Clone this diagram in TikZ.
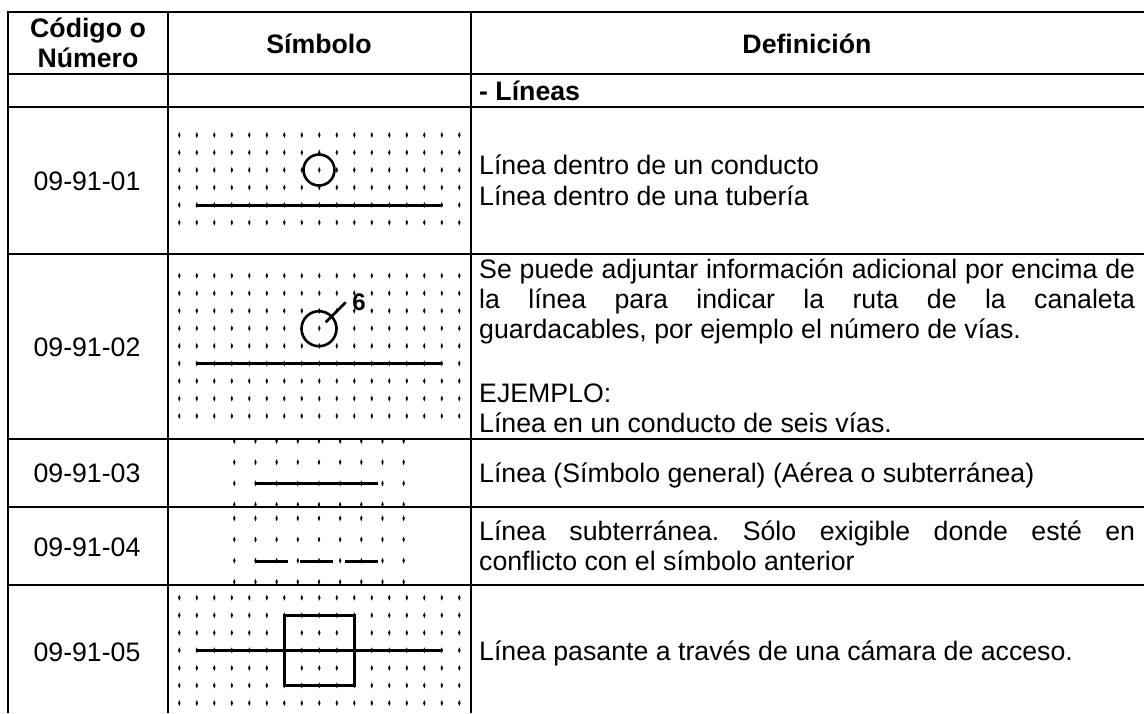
\documentclass[tikz,border=0pt]{standalone}
\usepackage{fontspec}
\setmainfont{Liberation Sans}
\frenchspacing
\newcommand{\dotgrid}[6]{%
  \foreach \i in {0,...,#3}{\foreach \j in {0,...,#6}{%
    \fill[black] ({#1+\i*#2},{#4+\j*#5-3}) -- ({#1+\i*#2+1.2},{#4+\j*#5}) -- ({#1+\i*#2},{#4+\j*#5+3}) -- ({#1+\i*#2-1.2},{#4+\j*#5}) -- cycle;
  }}}
\tikzset{
  grid/.style={line width=2pt},
  sym/.style={line width=3pt},
  cell/.style={font=\fontsize{26.7}{30}\selectfont,inner sep=0pt,anchor=base},
  head/.style={cell,font=\fontsize{26.7}{30}\selectfont\bfseries},
  def/.style={font=\fontsize{26.7}{30}\selectfont,inner sep=0pt,anchor=base west},
}
\newcommand{\jline}[1]{\hbox to 656pt{#1}}
\begin{document}
\begin{tikzpicture}[x=1pt,y=-1pt]
\useasboundingbox (0,0) rectangle (1144,713);
\fill[white] (0,0) rectangle (1144,713);
% dots
\dotgrid{179.3}{17.5}{16}{135}{17.5}{5}
\dotgrid{179.3}{17.5}{16}{275.7}{17.55}{8}
\dotgrid{234.3}{21.17}{8}{441}{21.2}{3}
\dotgrid{234.3}{21.17}{8}{518.3}{21.2}{3}
\dotgrid{179.3}{17.5}{16}{597.7}{17.55}{6}
% grid
\draw[grid] (7,12) -- (1144,12);
\draw[grid] (8,12) -- (8,713);
\draw[grid] (168.3,12) -- (168.3,713);
\draw[grid] (470.7,12) -- (470.7,713);
\foreach \y in {74,106.7,254,439,507,585} \draw[grid] (7,\y) -- (1144,\y);
% header
\node[head] (h1) at (88,37) {Código o};
\node[head] (h1b) at (88,67) {Número};
\node[head] (h2) at (319,53) {Símbolo};
\node[head] (h3) at (807,53) {Definición};
\node[def,font=\fontsize{26.7}{30}\selectfont\bfseries] (sec) at (479,100) {- Líneas};
% codes
\node[cell] (c1) at (87,190) {09-91-01};
\node[cell] (c2) at (87,356) {09-91-02};
\node[cell] (c3) at (87,482.7) {09-91-03};
\node[cell] (c4) at (87,556) {09-91-04};
\node[cell] (c5) at (87,661) {09-91-05};
% definitions
\node[def] (d1a) at (479,174) {Línea dentro de un conducto};
\node[def] (d1b) at (479,205) {Línea dentro de una tubería};
\node[def] (d2a) at (479,278) {\jline{Se puede adjuntar información adicional por encima de}};
\node[def] (d2b) at (479,308) {\jline{la línea para indicar la ruta de la canaleta}};
\node[def] (d2c) at (479,338) {guardacables, por ejemplo el número de vías.};
\node[def] (d2d) at (479,402) {EJEMPLO:};
\node[def] (d2e) at (479,432) {Línea en un conducto de seis vías.};
\node[def] (d3) at (479,482) {Línea (Símbolo general) (Aérea o subterránea)};
\node[def] (d4a) at (479,540) {\jline{Línea subterránea. Sólo exigible donde esté en}};
\node[def] (d4b) at (479,570) {conflicto con el símbolo anterior};
\node[def] (d5) at (479,660) {Línea pasante a través de una cámara de acceso.};
% symbols
\coordinate (l1a) at (196.5,205); \coordinate (l1b) at (442,205);
\draw[sym] (l1a) -- (l1b);
\node[draw,circle,line width=2.6pt,minimum size=31pt,inner sep=0pt] (o1) at (319,170) {};
\coordinate (l2a) at (196.5,363.7); \coordinate (l2b) at (442,363.7);
\draw[sym] (l2a) -- (l2b);
\node[draw,circle,line width=2.6pt,minimum size=35pt,inner sep=0pt] (o2) at (319,328.7) {};
\coordinate (t1) at (325.7,322.3); \coordinate (t2) at (345.7,302.3);
\draw[line width=2.6pt] (t1) -- (t2);
\node[font=\fontsize{24}{28}\selectfont\bfseries,inner sep=0pt] (six) at (359,302.7) {6};
\coordinate (l3a) at (255,483.3); \coordinate (l3b) at (378,483.3);
\draw[sym] (l3a) -- (l3b);
\coordinate (l4a) at (255,561); \coordinate (l4b) at (288,561);
\coordinate (l4c) at (300,561); \coordinate (l4d) at (333,561);
\coordinate (l4e) at (345,561); \coordinate (l4f) at (378,561);
\draw[sym] (l4a) -- (l4b); \draw[sym] (l4c) -- (l4d); \draw[sym] (l4e) -- (l4f);
\coordinate (l5a) at (196.5,650.5); \coordinate (l5b) at (442,650.5);
\draw[sym] (l5a) -- (l5b);
\draw[sym] (284,615.3) rectangle (354,685.7);
\end{tikzpicture}
\end{document}
